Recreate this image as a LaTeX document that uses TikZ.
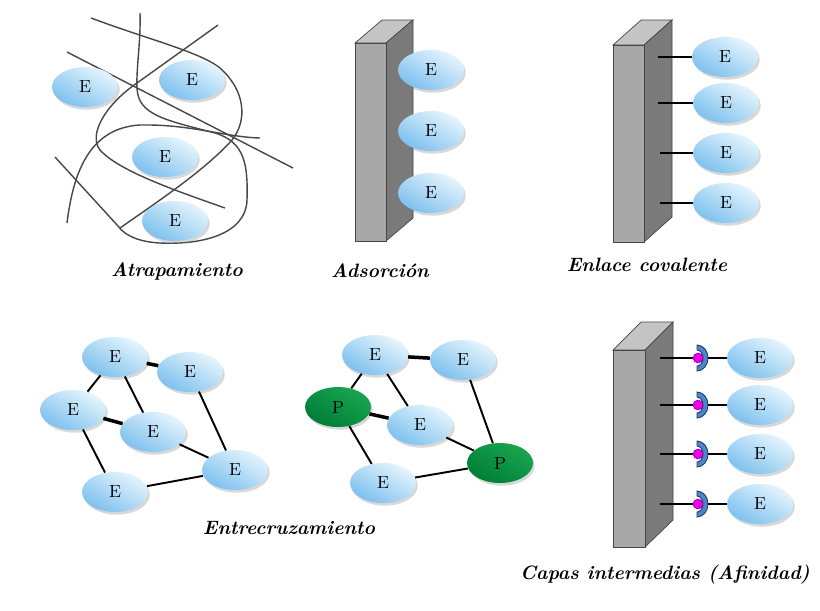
\documentclass[tikz,border=0pt]{standalone}
\usepackage{tikz}
\usetikzlibrary{shapes.geometric}
\usetikzlibrary{shadows}

\definecolor{eLight}{RGB}{230,245,253}
\definecolor{eDark}{RGB}{125,192,238}
\definecolor{pLight}{RGB}{25,165,80}
\definecolor{pDark}{RGB}{0,125,55}
\definecolor{slabFront}{RGB}{168,168,168}
\definecolor{slabSide}{RGB}{122,122,122}
\definecolor{slabTop}{RGB}{196,196,196}
\definecolor{slabEdge}{RGB}{70,70,70}
\definecolor{cupBlue}{RGB}{75,135,200}
\definecolor{cupEdge}{RGB}{30,60,110}
\definecolor{dotMag}{RGB}{235,0,235}

\begin{document}
\begin{tikzpicture}[x=0.02cm,y=-0.02cm,
enz/.style={ellipse,minimum width=1.32cm,minimum height=0.8cm,inner sep=0pt,
  top color=eLight,bottom color=eDark,shading angle=-30,
  drop shadow={opacity=.3,shadow xshift=1pt,shadow yshift=-1.5pt},
  font=\fontsize{10}{12}\selectfont},
pol/.style={ellipse,minimum width=1.32cm,minimum height=0.8cm,inner sep=0pt,
  top color=pLight,bottom color=pDark,shading angle=-30,
  drop shadow={opacity=.3,shadow xshift=1pt,shadow yshift=-1.5pt},
  font=\fontsize{10}{12}\selectfont},
capt/.style={font=\fontsize{11}{13}\selectfont\bfseries\itshape},
strand/.style={draw=black!72,line width=.8pt},
link/.style={line width=1.1pt},
tlink/.style={line width=2pt},
bond/.style={line width=1.6pt},
magdot/.style={circle,fill=dotMag,draw=dotMag!60!black,line width=.3pt,minimum size=0.2cm,inner sep=0pt},
cup/.style={fill=cupBlue,draw=cupEdge,line width=.5pt},
]
\useasboundingbox[fill=white] (0,0) rectangle (820,610);

% Atrapamiento: fibres first, enzymes on top
\draw[strand] (67,52) -- (293,168);
\draw[strand] (218,25) -- (137,83) .. controls (105,105) and (88,135) .. (100,150)
  .. controls (120,172) and (180,192) .. (225,208);
\draw[strand] (91,18) .. controls (150,40) and (200,52) .. (220,68)
  .. controls (245,90) and (248,120) .. (232,140) .. controls (205,170) and (160,200) .. (120,228);
\draw[strand] (140,13) .. controls (141,40) and (136,70) .. (137,88)
  .. controls (138,115) and (165,120) .. (215,133) .. controls (245,142) and (248,165) .. (247,200)
  .. controls (246,235) and (200,245) .. (160,243) .. controls (140,242) and (125,236) .. (118,226) -- (55,157);
\draw[strand] (67,223) .. controls (73,175) and (88,128) .. (140,125)
  .. controls (190,124) and (225,137) .. (260,138);

\node[enz] (a1) at (85,87) {E};
\node[enz] (a2) at (192,80) {E};
\node[enz] (a3) at (165,157) {E};
\node[enz] (a4) at (175,221) {E};
\node[capt] (lbla) at (177,271) {Atrapamiento};

% Adsorcion
\filldraw[fill=slabTop,draw=slabEdge,line width=.4pt] (355,43) -- (382,20) -- (413,20) -- (386,43) -- cycle;
\filldraw[fill=slabSide,draw=slabEdge,line width=.4pt] (386,43) -- (413,20) -- (413,218) -- (386,241) -- cycle;
\filldraw[fill=slabFront,draw=slabEdge,line width=.4pt] (355,43) rectangle (386,241);

\node[enz] (b1) at (431,70) {E};
\node[enz] (b2) at (431,131) {E};
\node[enz] (b3) at (431,193) {E};
\node[capt] (lblb) at (380,271) {Adsorción};

% Enlace covalente
\filldraw[fill=slabTop,draw=slabEdge,line width=.4pt] (613,45) -- (641,20) -- (672,20) -- (644,45) -- cycle;
\filldraw[fill=slabSide,draw=slabEdge,line width=.4pt] (644,45) -- (672,20) -- (672,217) -- (644,242) -- cycle;
\filldraw[fill=slabFront,draw=slabEdge,line width=.4pt] (613,45) rectangle (644,242);

\node[enz] (c1) at (725,57) {E};
\node[enz] (c2) at (726,103) {E};
\node[enz] (c3) at (726,153) {E};
\node[enz] (c4) at (726,203) {E};
\coordinate (k1) at (658,57);
\coordinate (k2) at (658,103);
\coordinate (k3) at (660,153);
\coordinate (k4) at (660,203);
\draw[bond] (k1) -- (c1);
\draw[bond] (k2) -- (c2);
\draw[bond] (k3) -- (c3);
\draw[bond] (k4) -- (c4);
\node[capt] (lblc) at (647,265) {Enlace covalente};

% Entrecruzamiento, only enzymes
\node[enz] (x1) at (115,357) {E};
\node[enz] (x2) at (190,372) {E};
\node[enz] (x3) at (73,410) {E};
\node[enz] (x4) at (153,432) {E};
\node[enz] (x5) at (235,470) {E};
\node[enz] (x6) at (115,492) {E};
\draw[tlink] (x1) -- (x2);
\draw[link] (x1) -- (x3);
\draw[link] (x1) -- (x4);
\draw[tlink] (x3) -- (x4);
\draw[link] (x3) -- (x6);
\draw[link] (x2) -- (x5);
\draw[link] (x4) -- (x5);
\draw[link] (x6) -- (x5);

% Entrecruzamiento with a protein
\node[enz] (y1) at (375,355) {E};
\node[enz] (y2) at (463,360) {E};
\node[pol] (p1) at (338,407) {P};
\node[enz] (y3) at (420,425) {E};
\node[pol] (p2) at (500,463) {P};
\node[enz] (y4) at (383,483) {E};
\draw[tlink] (y1) -- (y2);
\draw[link] (y1) -- (p1);
\draw[link] (y1) -- (y3);
\draw[tlink] (p1) -- (y3);
\draw[link] (p1) -- (y4);
\draw[link] (y2) -- (p2);
\draw[link] (y3) -- (p2);
\draw[link] (y4) -- (p2);
\node[capt] (lblx) at (289,528) {Entrecruzamiento};

% Capas intermedias
\filldraw[fill=slabTop,draw=slabEdge,line width=.4pt] (613,350) -- (641,322) -- (673,322) -- (645,350) -- cycle;
\filldraw[fill=slabSide,draw=slabEdge,line width=.4pt] (645,350) -- (673,322) -- (673,520) -- (645,547) -- cycle;
\filldraw[fill=slabFront,draw=slabEdge,line width=.4pt] (613,350) rectangle (645,547);

\filldraw[cup] (697,345) arc[start angle=90,end angle=-90,x radius=.22cm,y radius=.26cm]
  -- (697,366) arc[start angle=-90,end angle=90,x radius=.12cm,y radius=.16cm] -- cycle;
\filldraw[cup] (697,392) arc[start angle=90,end angle=-90,x radius=.22cm,y radius=.26cm]
  -- (697,413) arc[start angle=-90,end angle=90,x radius=.12cm,y radius=.16cm] -- cycle;
\filldraw[cup] (697,441) arc[start angle=90,end angle=-90,x radius=.22cm,y radius=.26cm]
  -- (697,462) arc[start angle=-90,end angle=90,x radius=.12cm,y radius=.16cm] -- cycle;
\filldraw[cup] (697,491) arc[start angle=90,end angle=-90,x radius=.22cm,y radius=.26cm]
  -- (697,512) arc[start angle=-90,end angle=90,x radius=.12cm,y radius=.16cm] -- cycle;

\node[magdot] (m1) at (698,358) {};
\node[magdot] (m2) at (698,405) {};
\node[magdot] (m3) at (698,454) {};
\node[magdot] (m4) at (698,504) {};
\node[enz] (d1) at (760,358) {E};
\node[enz] (d2) at (760,405) {E};
\node[enz] (d3) at (760,454) {E};
\node[enz] (d4) at (760,504) {E};
\coordinate (h1) at (660,358);
\coordinate (h2) at (660,405);
\coordinate (h3) at (660,454);
\coordinate (h4) at (660,504);
\coordinate (u1) at (708,358);
\coordinate (u2) at (708,405);
\coordinate (u3) at (708,454);
\coordinate (u4) at (708,504);
\draw[bond] (h1) -- (m1);
\draw[bond] (h2) -- (m2);
\draw[bond] (h3) -- (m3);
\draw[bond] (h4) -- (m4);
\draw[bond] (u1) -- (d1);
\draw[bond] (u2) -- (d2);
\draw[bond] (u3) -- (d3);
\draw[bond] (u4) -- (d4);
\node[capt] (lbld) at (665,575) {Capas intermedias (Afinidad)};

\end{tikzpicture}
\end{document}
